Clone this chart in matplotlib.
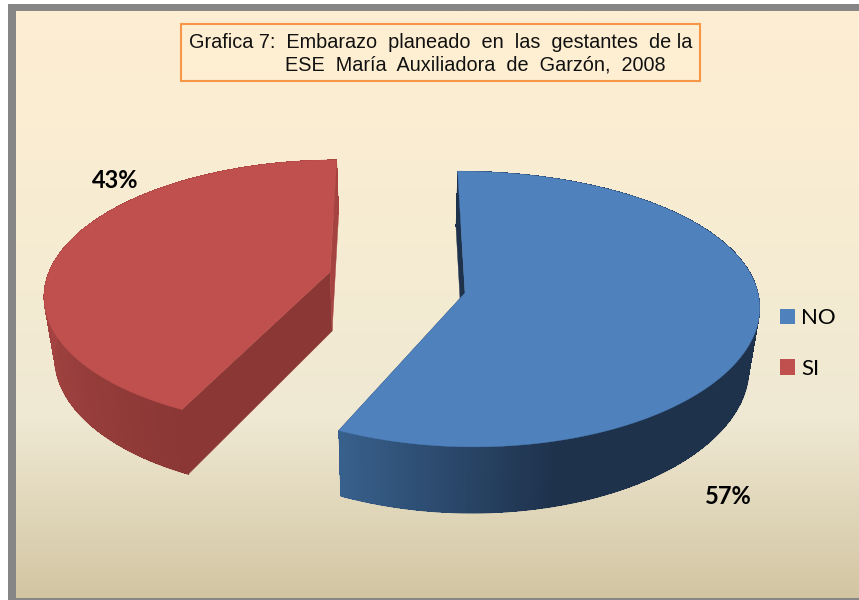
import numpy as np
import matplotlib
matplotlib.use("Agg")
import matplotlib.pyplot as plt
from matplotlib.collections import LineCollection, PolyCollection
from matplotlib.colors import to_rgb
from matplotlib.patches import Patch, Polygon, Rectangle

# Chart data
categories = ["NO", "SI"]
values = [57, 43]
title_lines = ["Grafica 7:  Embarazo  planeado  en  las  gestantes  de la",
               "ESE  María  Auxiliadora  de  Garzón,  2008"]


def lerp_colors(pos, stops):
    xs = [s[0] for s in stops]
    rgb = np.array([to_rgb(s[1]) for s in stops])
    return np.column_stack([np.interp(pos, xs, rgb[:, i]) for i in range(3)])


def project(theta, apex, rx, ry, k, kx, shear):
    # one slice of the disc in perspective, near side is bigger
    u, v = np.sin(theta), np.cos(theta)
    y = apex[1] - ry * v / (1 + k * v)
    x = apex[0] + rx * u / (1 + kx * v) + shear * (y - apex[1])
    return x, y


def drop(x, y):
    # lower face of the disc, goes towards the vanishing point
    return 400 + (np.asarray(x) - 400) * 0.97, np.asarray(y) + 55 + (np.asarray(y) - 170) * 0.04


def draw_slice(ax, start, stop, shape, top_color, cut_color, inner_color, wall_stops):
    deg = np.linspace(start, stop, 240)
    x, y = project(np.radians(deg), **shape)
    lx, ly = drop(x, y)
    ax_, ay_ = shape["apex"]
    alx, aly = drop(ax_, ay_)

    # the two cut walls go behind the outer wall
    for i, col in ((0, inner_color), (-1, cut_color)):
        ax.add_patch(Polygon([(ax_, ay_), (x[i], y[i]), (lx[i], ly[i]), (alx, aly)],
                             facecolor=col, edgecolor=col, linewidth=0.3, zorder=1.5))

    # outer wall as thin strips so it can carry the gradient
    strips = [[(x[i], y[i]), (x[i + 1], y[i + 1]), (lx[i + 1], ly[i + 1]), (lx[i], ly[i])]
              for i in range(len(x) - 1)]
    colors = lerp_colors((deg[:-1] + deg[1:]) / 2, wall_stops)
    ax.add_collection(PolyCollection(strips, facecolors=colors, edgecolors="none", antialiaseds=False, zorder=2))
    # strips have no antialiasing, this smooths the lower rim
    rim = [[(lx[i], ly[i]), (lx[i + 1], ly[i + 1])] for i in range(len(x) - 1)]
    ax.add_collection(LineCollection(rim, colors=colors, linewidths=0.8, zorder=2))

    ax.add_patch(Polygon(np.vstack([[ax_, ay_], np.column_stack([x, y])]),
                         facecolor=top_color, edgecolor=top_color, linewidth=0.3, zorder=4))


def main():
    plt.rcParams["font.family"] = ["Liberation Sans", "DejaVu Sans"]
    fig = plt.figure(figsize=(8.59, 6), dpi=100, facecolor="white")
    ax = fig.add_axes([0, 0, 1, 1])
    ax.axis("off")

    # Frame and background
    ax.add_patch(Rectangle((8, 4), 860, 596, facecolor="#868686", edgecolor="none", zorder=0))
    yy = np.linspace(0, 1, 256)
    grad = lerp_colors(yy, [(0, "#feeed2"), (0.4, "#f6ecd3"), (0.7, "#efe8d2"), (1, "#d2c5a2")])
    ax.imshow(grad[:, None, :], extent=(16, 859, 598, 11), aspect="auto", zorder=1)
    ax.set_xlim(0, 859)
    ax.set_ylim(600, 0)

    # Slices, clockwise from the top
    fracs = np.array(values) / sum(values) * 360
    draw_slice(ax, 0, fracs[0],
               dict(apex=(465, 293), rx=293, ry=136, k=0.116, kx=0.08, shear=0.06),
               "#4f81bd", "#1e324c", "#1e324c",
               [(165, "#1e324c"), (205, "#38608c")])
    draw_slice(ax, fracs[0], fracs[0] + fracs[1],
               dict(apex=(330, 272), rx=281, ry=130, k=0.16, kx=0.16, shear=-0.06),
               "#bf504d", "#a54340", "#8a3735",
               [(205, "#8a3735"), (240, "#9b403e"), (270, "#a64442"), (360, "#a54340")])

    # Percent labels
    ax.text(728, 497, f"{values[0]}%", fontsize=17, fontweight="bold", family="Lato", ha="center", va="center", zorder=6)
    ax.text(115, 181, f"{values[1]}%", fontsize=17, fontweight="bold", family="Lato", ha="center", va="center", zorder=6)

    # Title box
    ax.add_patch(Rectangle((181, 24), 519, 57, facecolor="#feeed2", edgecolor="#f79646", linewidth=1.5, zorder=5))
    ax.text(189, 42, title_lines[0], fontsize=14.3, color="#111111", ha="left", va="center", zorder=6)
    ax.text(285, 65, title_lines[1], fontsize=14.3, color="#111111", ha="left", va="center", zorder=6)

    # Legend
    handles = [Patch(facecolor=c, edgecolor="none") for c in ("#4f81bd", "#bf504d")]
    leg = ax.legend(handles, categories, loc="center left", bbox_to_anchor=(780, 343.5),
                    bbox_transform=ax.transData, frameon=False, prop={"family": "Lato", "size": 16},
                    handlelength=0.68, handleheight=0.68, handletextpad=0.27, labelspacing=1.37,
                    borderpad=0, borderaxespad=0)
    leg.set_zorder(6)

    fig.savefig("out.png", dpi=100)


if __name__ == "__main__":
    main()
